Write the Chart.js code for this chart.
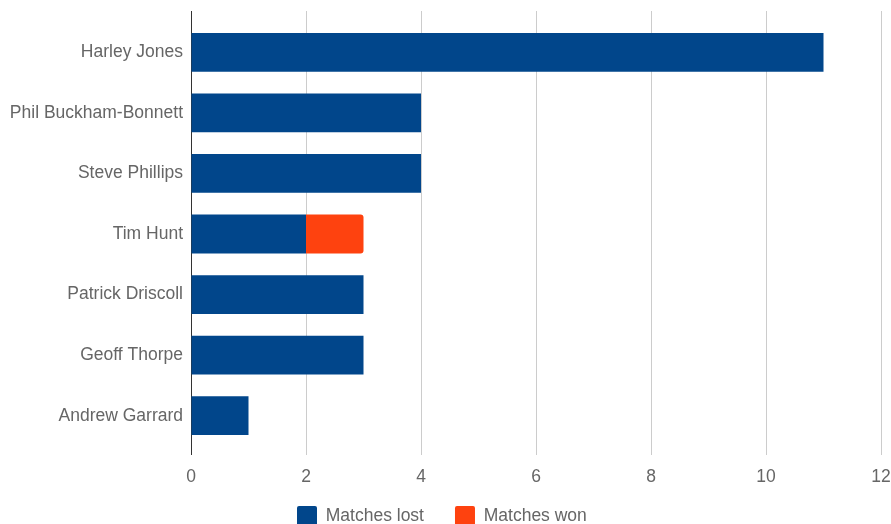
<!DOCTYPE html>
<html lang="en">
<head>
    <meta charset="UTF-8">
    <title>Matches lost and won</title>
    <script src="https://cdn.jsdelivr.net/npm/chart.js"></script>
    <style>
        html, body {
            margin: 0;
            padding: 0;
            background: #fff;
            overflow: hidden;
        }
        .chart-box {
            position: relative;
            width: 891px;
            height: 557px;
        }
    </style>
</head>
<body>
    <div class="chart-box">
        <canvas id="matchChart"></canvas>
    </div>

    <script>
        // data
        const players = ['Harley Jones', 'Phil Buckham-Bonnett', 'Steve Phillips', 'Tim Hunt',
                         'Patrick Driscoll', 'Geoff Thorpe', 'Andrew Garrard'];
        const matchesLost = [11, 4, 4, 2, 3, 3, 1];
        const matchesWon = [0, 0, 0, 1, 0, 0, 0];
        const seriesNames = ['Matches lost', 'Matches won'];
        const axisMin = 0;
        const axisMax = 12;
        const axisStep = 2;

        const blue = '#01468b';
        const orange = '#fe420f';
        const gridColor = '#cccccc';
        const zeroColor = '#333333';
        const textColor = '#666666';

        Chart.defaults.font.family = "'Liberation Sans', Arial, sans-serif";
        Chart.defaults.font.size = 17.5;
        Chart.defaults.color = textColor;

        // vertical grid lines run a little above the plot area
        const gridAbove = {
            id: 'gridAbove',
            beforeDatasetsDraw(chart) {
                const { ctx, chartArea, scales } = chart;
                const x = scales.x;
                ctx.save();
                ctx.lineWidth = 1;
                x.ticks.forEach(t => {
                    const px = Math.round(x.getPixelForValue(t.value)) + 0.5;
                    ctx.strokeStyle = t.value === 0 ? zeroColor : gridColor;
                    ctx.beginPath();
                    ctx.moveTo(px, chartArea.top - 11);
                    ctx.lineTo(px, chartArea.top);
                    ctx.stroke();
                });
                ctx.restore();
            }
        };

        // legend sits under the left part of the plot, half cut by the bottom edge
        const legendShift = {
            id: 'legendShift',
            beforeDraw(chart) {
                chart.legend.left = 266;
                chart.legend.top = 475;
            }
        };

        new Chart(document.getElementById('matchChart'), {
            type: 'bar',
            data: {
                labels: players,
                datasets: [{
                    label: seriesNames[0],
                    data: matchesLost,
                    backgroundColor: blue,
                    borderWidth: 0
                }, {
                    label: seriesNames[1],
                    data: matchesWon,
                    backgroundColor: orange,
                    borderWidth: 0,
                    borderRadius: 3,
                    borderSkipped: 'start'
                }]
            },
            options: {
                indexAxis: 'y',
                responsive: true,
                maintainAspectRatio: false,
                animation: false,
                categoryPercentage: 1.0,
                barPercentage: 0.64,
                layout: {
                    padding: { top: 22, right: 0, bottom: 0, left: 0 }
                },
                plugins: {
                    tooltip: { enabled: false },
                    legend: {
                        position: 'bottom',
                        align: 'start',
                        labels: {
                            boxWidth: 20,
                            boxHeight: 20,
                            padding: 31,
                            useBorderRadius: true,
                            borderRadius: 2,
                            color: textColor
                        }
                    }
                },
                scales: {
                    x: {
                        stacked: true,
                        min: axisMin,
                        max: axisMax,
                        ticks: {
                            stepSize: axisStep,
                            padding: 12,
                            maxRotation: 0
                        },
                        grid: {
                            color: ctx => ctx.tick && ctx.tick.value === 0 ? zeroColor : gridColor,
                            tickLength: 9
                        },
                        border: { display: false },
                        afterFit(scale) {
                            scale.height = 50;
                            scale.paddingLeft = 0;
                            scale.paddingRight = 10;
                        }
                    },
                    y: {
                        stacked: true,
                        ticks: {
                            padding: 8
                        },
                        grid: {
                            display: false,
                            drawTicks: false
                        },
                        border: { display: false },
                        afterFit(scale) {
                            scale.width = 191;
                        }
                    }
                }
            },
            plugins: [gridAbove, legendShift]
        });
    </script>
</body>
</html>
